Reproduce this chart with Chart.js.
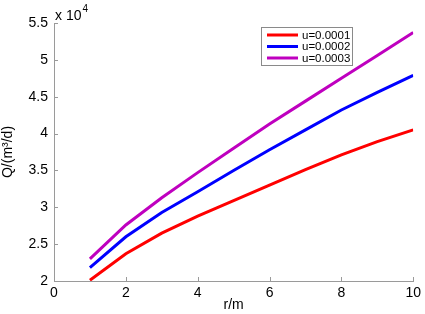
<!DOCTYPE html>
<html>
<head>
<meta charset="utf-8">
<script src="https://cdn.jsdelivr.net/npm/chart.js@4"></script>
<style>
    html, body { margin: 0; padding: 0; background: #fff; }
    #wrap { width: 425px; height: 314px; position: relative; }
</style>
</head>
<body>
<div id="wrap"><canvas id="flowChart"></canvas></div>
<script>
// radius r (m)
const radius = [1, 2, 3, 4, 5, 6, 7, 8, 9, 10];
// Q in units of 10^4 m3/d
const flowU1 = [2.01, 2.37, 2.65, 2.88, 3.09, 3.30, 3.51, 3.71, 3.89, 4.05];
const flowU2 = [2.18, 2.60, 2.93, 3.21, 3.50, 3.78, 4.05, 4.32, 4.56, 4.79];
const flowU3 = [2.30, 2.76, 3.13, 3.47, 3.80, 4.13, 4.44, 4.75, 5.06, 5.37];
const seriesLabels = ['u=0.0001', 'u=0.0002', 'u=0.0003'];
const seriesColors = ['#ff0000', '#0000ff', '#bf00bf'];
const xTicks = [0, 2, 4, 6, 8, 10];
const yTicks = [2, 2.5, 3, 3.5, 4, 4.5, 5, 5.5];

const font = 'Liberation Sans, Arial, sans-serif';
const axisColor = '#9a9a9a';

function toPoints(ys) {
    return radius.map((r, i) => ({ x: r, y: ys[i] }));
}

// Inward ticks, exponent label and legend box
const decorations = {
    id: 'decorations',
    afterDraw(chart) {
        const ctx = chart.ctx;
        const area = chart.chartArea;
        const xs = chart.scales.x;
        const ys = chart.scales.y;
        ctx.save();
        ctx.strokeStyle = axisColor;
        ctx.lineWidth = 1;
        ctx.beginPath();
        xTicks.forEach(v => {
            const px = Math.round(xs.getPixelForValue(v)) + 0.5;
            ctx.moveTo(px, area.bottom);
            ctx.lineTo(px, area.bottom - 4);
        });
        yTicks.forEach(v => {
            const py = Math.round(ys.getPixelForValue(v)) + 0.5;
            ctx.moveTo(area.left, py);
            ctx.lineTo(area.left + 4, py);
        });
        ctx.stroke();

        // x 10^4
        ctx.fillStyle = '#000';
        ctx.textBaseline = 'alphabetic';
        ctx.textAlign = 'left';
        ctx.font = '14px ' + font;
        ctx.fillText('x 10', 55, 20);
        const w = ctx.measureText('x 10').width;
        ctx.font = '10px ' + font;
        ctx.fillText('4', 55 + w + 1, 12);

        // legend
        const lx = 261, ly = 27, lw = 91, lh = 38;
        ctx.fillStyle = '#fff';
        ctx.fillRect(lx, ly, lw, lh);
        ctx.strokeStyle = '#8a8a8a';
        ctx.lineWidth = 1;
        ctx.strokeRect(lx + 0.5, ly + 0.5, lw, lh);
        ctx.font = '11.5px ' + font;
        ctx.textBaseline = 'middle';
        chart.data.datasets.forEach((ds, i) => {
            const yy = ly + 8 + i * 11.5;
            ctx.strokeStyle = ds.borderColor;
            ctx.lineWidth = 3;
            ctx.beginPath();
            ctx.moveTo(lx + 6, yy);
            ctx.lineTo(lx + 37, yy);
            ctx.stroke();
            ctx.fillStyle = '#000';
            ctx.fillText(ds.label, lx + 41, yy + 0.5);
        });
        ctx.restore();
    }
};

const ctx = document.getElementById('flowChart');
new Chart(ctx.getContext('2d'), {
    type: 'line',
    data: {
        datasets: [flowU1, flowU2, flowU3].map((ys, i) => ({
            label: seriesLabels[i],
            data: toPoints(ys),
            borderColor: seriesColors[i],
            backgroundColor: seriesColors[i],
            borderWidth: 3,
            pointRadius: 0,
            tension: 0,
            fill: false
        }))
    },
    options: {
        responsive: true,
        maintainAspectRatio: false,
        animation: false,
        devicePixelRatio: 1,
        layout: { padding: { top: 23, right: 10, left: 0, bottom: 0 } },
        plugins: {
            legend: { display: false },
            tooltip: { enabled: false }
        },
        scales: {
            x: {
                type: 'linear',
                min: 0,
                max: 10,
                afterBuildTicks(scale) {
                    scale.ticks = xTicks.map(v => ({ value: v }));
                },
                afterFit(scale) { scale.height = 33; },
                grid: { drawOnChartArea: false, drawTicks: false },
                border: { color: axisColor, width: 1 },
                ticks: {
                    color: '#000',
                    padding: 4,
                    font: { family: font, size: 14 }
                },
                title: {
                    display: true,
                    text: 'r/m',
                    color: '#000',
                    padding: { top: 0, bottom: 0 },
                    font: { family: font, size: 14 }
                }
            },
            y: {
                type: 'linear',
                min: 2,
                max: 5.5,
                afterBuildTicks(scale) {
                    scale.ticks = yTicks.map(v => ({ value: v }));
                },
                afterFit(scale) { scale.width = 54; },
                grid: { drawOnChartArea: false, drawTicks: false },
                border: { color: axisColor, width: 1 },
                ticks: {
                    color: '#000',
                    padding: 6,
                    font: { family: font, size: 14 },
                    callback: v => String(v)
                },
                title: {
                    display: true,
                    text: 'Q/(m³/d)',
                    color: '#000',
                    padding: { top: 0, bottom: 4 },
                    font: { family: font, size: 14 }
                }
            }
        }
    },
    plugins: [decorations]
});
</script>
</body>
</html>
